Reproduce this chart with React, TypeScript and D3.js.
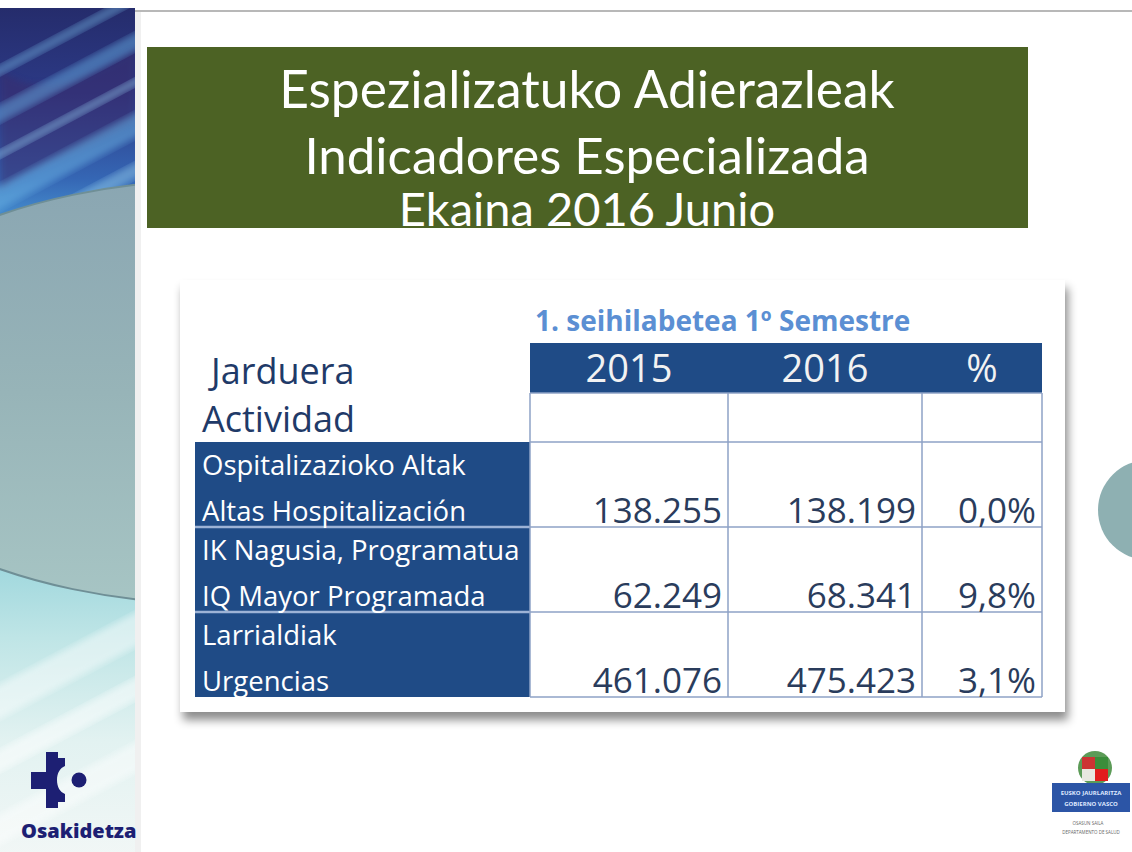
import * as d3 from 'd3'

const titleLines = ['Espezializatuko Adierazleak', 'Indicadores Especializada', 'Ekaina 2016 Junio']
const subtitle = '1. seihilabetea 1º Semestre'
const headerLabel = ['Jarduera', 'Actividad']
const columns = ['2015', '2016', '%']
const rowsEu = ['Ospitalizazioko Altak', 'IK Nagusia, Programatua', 'Larrialdiak']
const rowsEs = ['Altas Hospitalización', 'IQ Mayor Programada', 'Urgencias']
const values2015 = ['138.255', '62.249', '461.076']
const values2016 = ['138.199', '68.341', '475.423']
const pct = ['0,0%', '9,8%', '3,1%']

const W = 1132
const H = 852
const FONT = '"Open Sans", Lato, sans-serif'
const TITLE_FONT = 'Lato, "Open Sans", sans-serif'

// table geometry
const labelX0 = 195
const tableX0 = 530
const colWidths = [198, 194, 120]
const headerY0 = 343
const headerH = 50
const emptyH = 49
const bodyY0 = headerY0 + headerH + emptyH
const bodyY1 = 697

const edges = [tableX0, ...Array.from(d3.cumsum(colWidths), d => tableX0 + d)]
const colLeft = d3.scaleOrdinal<string, number>().domain(columns).range(edges.slice(0, 3))
const colRight = d3.scaleOrdinal<string, number>().domain(columns).range(edges.slice(1))
const rowY = d3.scaleBand<string>().domain(rowsEu).range([bodyY0, bodyY1]).paddingInner(0)

const navy = '#1f4b86'
const valueColor = '#2a3c5c'
const gridColor = '#8ea2c6'

function LeftStrip() {
  const streaks = [
    { y: 30, w: 10, o: 0.4, c: '#7fc8f0' },
    { y: 70, w: 16, o: 0.45, c: '#6cb8ea' },
    { y: 115, w: 8, o: 0.45, c: '#9ad6f4' },
    { y: 150, w: 22, o: 0.45, c: '#72c0ec' },
    { y: 200, w: 14, o: 0.4, c: '#a6e0f4' },
    { y: 650, w: 30, o: 0.45, c: '#ffffff' },
    { y: 715, w: 20, o: 0.5, c: '#ffffff' },
    { y: 780, w: 26, o: 0.45, c: '#ffffff' },
  ]
  return (
    <g>
      <defs>
        <linearGradient id="stripBg" x1="0" y1="0" x2="0" y2="1">
          <stop offset="0" stopColor="#252c6c" />
          <stop offset="0.1" stopColor="#2c3a86" />
          <stop offset="0.2" stopColor="#3566b4" />
          <stop offset="0.26" stopColor="#4a9ad6" />
          <stop offset="0.6" stopColor="#8ccfd8" />
          <stop offset="0.74" stopColor="#bfe5e6" />
          <stop offset="0.86" stopColor="#e2f2f1" />
          <stop offset="1" stopColor="#f2f7f6" />
        </linearGradient>
        <linearGradient id="discFill" x1="0" y1="0" x2="0" y2="1">
          <stop offset="0" stopColor="#8aa6b2" />
          <stop offset="0.5" stopColor="#97b4b8" />
          <stop offset="1" stopColor="#a7c5c4" />
        </linearGradient>
        <clipPath id="stripClip">
          <rect x={0} y={8} width={135} height={H - 8} />
        </clipPath>
        <filter id="blur2"><feGaussianBlur stdDeviation="3" /></filter>
      </defs>
      <g clipPath="url(#stripClip)">
        <rect x={0} y={8} width={135} height={H} fill="url(#stripBg)" />
        <path d="M0,70 C40,100 80,80 135,50 L135,120 C80,150 40,165 0,190 Z" fill="#3a2a6a" opacity={0.5} filter="url(#blur2)" />
        {streaks.map((s, i) => (
          <rect key={i} x={-60} y={s.y} width={260} height={s.w} fill={s.c} opacity={s.o}
            transform={`rotate(-28 65 ${s.y})`} filter="url(#blur2)" />
        ))}
        <ellipse cx={220} cy={392} rx={400} ry={212} fill="url(#discFill)" stroke="#6f8f96" strokeWidth={2} />
      </g>
    </g>
  )
}

function OsakidetzaLogo() {
  return (
    <g>
      <rect x={31} y={772} width={16} height={17} fill="#1d1f73" />
      <path d="M46,752 L58,752 L58,758 L65,758 L65,766 C60,768 57,773 57,780 C57,787 60,792 65,794 L65,802 L58,802 L58,808 L46,808 Z" fill="#1d1f73" />
      <circle cx={79} cy={780} r={7.5} fill="#1d1f73" />
      <text x={21} y={838} fontFamily={FONT} fontWeight={800} fontSize={20} fill="#1d1f73">Osakidetza</text>
    </g>
  )
}

function GovLogo() {
  return (
    <g>
      <circle cx={1095} cy={768} r={17} fill="#3f8a3a" opacity={0.85} />
      <rect x={1082} y={757} width={26} height={24} fill="#e8e8e0" />
      <rect x={1082} y={757} width={13} height={12} fill="#c33" />
      <rect x={1095} y={769} width={13} height={12} fill="#e21c1c" />
      <rect x={1095} y={757} width={13} height={12} fill="#3b8d3a" />
      <rect x={1052} y={783} width={78} height={29} fill="#2c55a6" />
      <text x={1091} y={795} textAnchor="middle" fontFamily={FONT} fontSize={6} fontWeight={700} fill="#dfe8ff">EUSKO JAURLARITZA</text>
      <text x={1091} y={806} textAnchor="middle" fontFamily={FONT} fontSize={6} fontWeight={700} fill="#dfe8ff">GOBIERNO VASCO</text>
      <text x={1088} y={825} textAnchor="middle" fontFamily={FONT} fontSize={4.5} fill="#666">OSASUN SAILA</text>
      <text x={1091} y={834} textAnchor="middle" fontFamily={FONT} fontSize={4.5} fill="#666">DEPARTAMENTO DE SALUD</text>
    </g>
  )
}

function DataTable() {
  const values = [values2015, values2016, pct]
  return (
    <g>
      <defs>
        <filter id="cardShadow" x="-5%" y="-5%" width="115%" height="120%">
          <feDropShadow dx={3} dy={8} stdDeviation={5} floodColor="#000" floodOpacity={0.45} />
        </filter>
      </defs>
      <rect x={180} y={280} width={885} height={432} fill="#ffffff" filter="url(#cardShadow)" />

      <text x={tableX0 + 5} y={331} fontFamily={FONT} fontWeight={700} fontSize={28} fill="#5b8fd3">{subtitle}</text>

      <text x={211} y={384} fontFamily={FONT} fontSize={36} fill="#1f3a68">{headerLabel[0]}</text>
      <text x={202} y={432} fontFamily={FONT} fontSize={36} fill="#1f3a68">{headerLabel[1]}</text>

      <rect x={tableX0} y={headerY0} width={edges[3] - tableX0} height={headerH} fill={navy} />
      {columns.map(c => (
        <text key={c} x={(colLeft(c) + colRight(c)) / 2} y={headerY0 + 39} textAnchor="middle"
          fontFamily={FONT} fontSize={38} fill="#f2f2f2">{c}</text>
      ))}

      {/* label column */}
      <rect x={labelX0} y={bodyY0} width={tableX0 - labelX0} height={bodyY1 - bodyY0} fill={navy} />
      {rowsEu.slice(1).map(r => (
        <line key={r} x1={labelX0} x2={tableX0} y1={rowY(r)} y2={rowY(r)} stroke="#9db3d6" strokeWidth={2.5} />
      ))}
      {rowsEu.map((r, i) => (
        <g key={r}>
          <text x={labelX0 + 7} y={rowY(r)! + 33} fontFamily={FONT} fontSize={27.5} fill="#ffffff">{r}</text>
          <text x={labelX0 + 7} y={rowY(r)! + 79} fontFamily={FONT} fontSize={27.5} fill="#ffffff">{rowsEs[i]}</text>
        </g>
      ))}

      {/* grid of value cells */}
      {[headerY0 + headerH, bodyY0, ...rowsEu.slice(1).map(r => rowY(r)!), bodyY1].map((y, i) => (
        <line key={'h' + i} x1={tableX0} x2={edges[3]} y1={y} y2={y} stroke={gridColor} strokeWidth={1.5} />
      ))}
      {edges.map((x, i) => (
        <line key={'v' + i} x1={x} x2={x} y1={headerY0 + headerH} y2={bodyY1} stroke={gridColor} strokeWidth={1.5} />
      ))}

      {rowsEu.map((r, i) => columns.map((c, j) => (
        <text key={r + c} x={colRight(c) - 6} y={rowY(r)! + 81} textAnchor="end"
          fontFamily={FONT} fontSize={35} fill={valueColor}>{values[j][i]}</text>
      )))}
    </g>
  )
}

export default function App() {
  return (
    <svg width={W} height={H} viewBox={`0 0 ${W} ${H}`}
      style={{ position: 'absolute', left: 0, top: 0, background: '#ffffff' }}>
      <rect x={0} y={0} width={W} height={H} fill="#ffffff" />
      <line x1={135} x2={W} y1={11} y2={11} stroke="#a0a0a0" strokeWidth={1.5} />
      <LeftStrip />
      <rect x={135} y={12} width={6} height={H} fill="#e6e6e6" opacity={0.6} />

      <rect x={147} y={47} width={881} height={181} fill="#4c6224" />
      <text x={587} y={108} textAnchor="middle" fontFamily={TITLE_FONT} fontSize={51.5} fill="#ffffff">{titleLines[0]}</text>
      <text x={587} y={174} textAnchor="middle" fontFamily={TITLE_FONT} fontSize={51} fill="#ffffff">{titleLines[1]}</text>
      <text x={587} y={226} textAnchor="middle" fontFamily={TITLE_FONT} fontSize={47} fill="#ffffff">{titleLines[2]}</text>

      <circle cx={1148} cy={510} r={50} fill="#8eb0b2" />
      <DataTable />

      <OsakidetzaLogo />
      <GovLogo />
    </svg>
  )
}
